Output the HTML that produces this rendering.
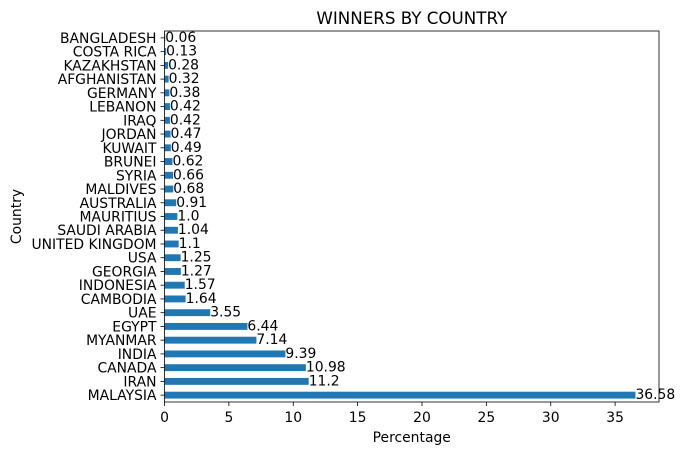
<!DOCTYPE html>
<html><head><meta charset="utf-8"><style>body{margin:0;background:#fff}text{font-family:"DejaVu Sans","Liberation Sans",sans-serif;fill:#000}</style></head>
<body>
<svg id="c" width="685" height="455"></svg>
<script>
const categories=["MALAYSIA","IRAN","CANADA","INDIA","MYANMAR","EGYPT","UAE","CAMBODIA","INDONESIA","GEORGIA","USA","UNITED KINGDOM","SAUDI ARABIA","MAURITIUS","AUSTRALIA","MALDIVES","SYRIA","BRUNEI","KUWAIT","JORDAN","IRAQ","LEBANON","GERMANY","AFGHANISTAN","KAZAKHSTAN","COSTA RICA","BANGLADESH"];
const values=[36.58,11.2,10.98,9.39,7.14,6.44,3.55,1.64,1.57,1.27,1.25,1.1,1.04,1.0,0.91,0.68,0.66,0.62,0.49,0.47,0.42,0.42,0.38,0.32,0.28,0.13,0.06];
const labels=["36.58","11.2","10.98","9.39","7.14","6.44","3.55","1.64","1.57","1.27","1.25","1.1","1.04","1.0","0.91","0.68","0.66","0.62","0.49","0.47","0.42","0.42","0.38","0.32","0.28","0.13","0.06"];
const xTicks=[0,5,10,15,20,25,30,35];
const svg=document.getElementById('c');const NS='http://www.w3.org/2000/svg';
const L=164.5,R=659,T=31,B=402,FS=13.9;
const n=categories.length;
const xmax=Math.max(...values)*1.05;
const x=v=>L+v/xmax*(R-L);
const step=(B-T)/n;
const y=i=>B-step*(i+0.5);
function mk(t,a,p){const e=document.createElementNS(NS,t);for(const k in a)e.setAttribute(k,a[k]);(p||svg).appendChild(e);return e;}
values.forEach((v,i)=>{
const r=mk('rect',{x:x(0),y:y(i)-step/4,width:x(v)-x(0),height:step/2,fill:'#1f77b4'});


const t=mk('text',{x:x(v),y:y(i)+4,'font-size':FS});t.textContent=labels[i];


const cl=mk('text',{x:L-8,y:y(i)+5,'font-size':FS,'text-anchor':'end'});cl.textContent=categories[i];


mk('line',{x1:L-4,x2:L,y1:y(i),y2:y(i),stroke:'#000','stroke-width':0.8});
});
xTicks.forEach(v=>{
mk('line',{x1:x(v),x2:x(v),y1:B,y2:B+4,stroke:'#000','stroke-width':0.8});
const t=mk('text',{x:x(v),y:B+20,'font-size':FS,'text-anchor':'middle'});t.textContent=v;


});
const f=mk('rect',{x:L,y:T,width:R-L,height:B-T,fill:'none',stroke:'#000','stroke-width':0.8});


const ti=mk('text',{x:(L+R)/2,y:T-7,'font-size':16.7,'text-anchor':'middle'});ti.textContent='WINNERS BY COUNTRY';


const xl=mk('text',{x:(L+R)/2,y:442,'font-size':FS,'text-anchor':'middle'});xl.textContent='Percentage';


const yl=mk('text',{x:21,y:(T+B)/2,'font-size':FS,'text-anchor':'middle',transform:`rotate(-90 21 ${(T+B)/2})`});yl.textContent='Country';


</script>
</body></html>
